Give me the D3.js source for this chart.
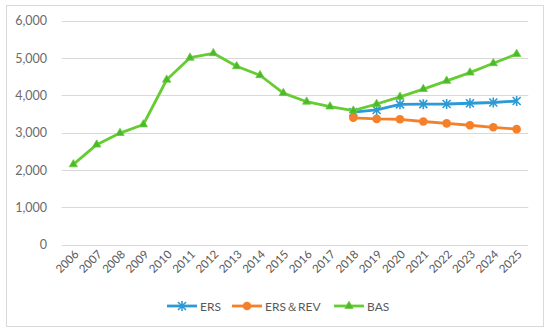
<!DOCTYPE html>
<html><head><meta charset="utf-8">
<script src="https://cdn.jsdelivr.net/npm/d3@7"></script>
<style>body{margin:0;background:#fff}svg{display:block}</style>
</head><body>
<svg id="c" width="550" height="333"></svg>
<script>
const years = ["2006","2007","2008","2009","2010","2011","2012","2013","2014","2015","2016","2017","2018","2019","2020","2021","2022","2023","2024","2025"];
const bas = [2150,2680,2990,3220,4420,5010,5130,4780,4540,4060,3830,3700,3590,3770,3960,4170,4390,4610,4860,5110];
const ers = [null,null,null,null,null,null,null,null,null,null,null,null,3550,3610,3760,3765,3770,3790,3810,3850];
const ersRev = [null,null,null,null,null,null,null,null,null,null,null,null,3400,3370,3360,3300,3250,3200,3145,3095];
const yTicks = [0,1000,2000,3000,4000,5000,6000];
const seriesNames = ["ERS","ERS\uFF06REV","BAS"];

const svg = d3.select("#c");
const font = "Lato, 'Open Sans', sans-serif";
svg.append("rect").attr("x",6.5).attr("y",5.5).attr("width",537).attr("height",321)
  .attr("fill","#fff").attr("stroke","#D9D9D9").attr("stroke-width",1);

const x = d3.scaleBand().domain(years).range([61.7,528.3]);
const y = d3.scaleLinear().domain([0,6000]).range([244.6,20.8]);
const cx = d => x(d)+x.bandwidth()/2;

svg.append("g").selectAll("line").data(yTicks).join("line")
  .attr("x1",61.7).attr("x2",528.3).attr("y1",d=>Math.round(y(d))+0.5).attr("y2",d=>Math.round(y(d))+0.5)
  .attr("stroke","#D9D9D9").attr("stroke-width",1);

const ya = svg.append("g").attr("transform","translate(47,0)")
  .call(d3.axisLeft(y).tickValues(yTicks).tickSize(0).tickPadding(0).tickFormat(d3.format(",")));
ya.select(".domain").remove();
ya.selectAll("text").attr("font-family",font).attr("font-size",12.5).attr("fill","#6b6b6b");

const xa = svg.append("g").attr("transform","translate(0,245)")
  .call(d3.axisBottom(x).tickSize(0).tickPadding(0));
xa.select(".domain").remove();
xa.selectAll("text").attr("font-family",font).attr("font-size",11.5).attr("fill","#595959")
  .attr("text-anchor","end").attr("dy",0).attr("y",0)
  .attr("transform","translate(6,10) rotate(-45)");

const colors = ["#2C9AD6","#F6802A","#66CC33"];
const datas = [ers, ersRev, bas];
const line = d3.line().defined(d=>d.v!=null).x(d=>cx(d.yr)).y(d=>y(d.v));

function marker(g, type, color, px, py){
  if(type===0){
    const s=4;
    g.append("path").attr("d",`M${px-s},${py-s}L${px+s},${py+s}M${px-s},${py+s}L${px+s},${py-s}M${px},${py-s-1}L${px},${py+s+1}`)
      .attr("stroke",color).attr("stroke-width",1.6).attr("fill","none");
  } else if(type===1){
    g.append("circle").attr("cx",px).attr("cy",py).attr("r",4.3).attr("fill",color);
  } else {
    g.append("path").attr("d",d3.symbol(d3.symbolTriangle,30)()).attr("transform",`translate(${px},${py})`)
      .attr("fill","#4DB82E").attr("stroke",color).attr("stroke-width",0.8);
  }
}

[0,1,2].forEach(i=>{
  const pts = years.map((yr,j)=>({yr, v: datas[i][j]}));
  const g = svg.append("g");
  g.append("path").datum(pts).attr("d",line).attr("fill","none")
    .attr("stroke",colors[i]).attr("stroke-width",2.8).attr("stroke-linejoin","round");
  pts.filter(p=>p.v!=null).forEach(p=>marker(g,i,colors[i],cx(p.yr),y(p.v)));
});

const legX = [167, 232, 334];
const lg = svg.append("g");
seriesNames.forEach((n,i)=>{
  const lx = legX[i], ly = 306;
  lg.append("line").attr("x1",lx).attr("x2",lx+30).attr("y1",ly).attr("y2",ly)
    .attr("stroke",colors[i]).attr("stroke-width",2.8);
  marker(lg,i,colors[i],lx+15,ly);
  lg.append("text").attr("x",lx+33).attr("y",ly+4.5).text(n)
    .attr("font-family",font).attr("font-size",12).attr("fill","#595959");
});
</script>
</body></html>
